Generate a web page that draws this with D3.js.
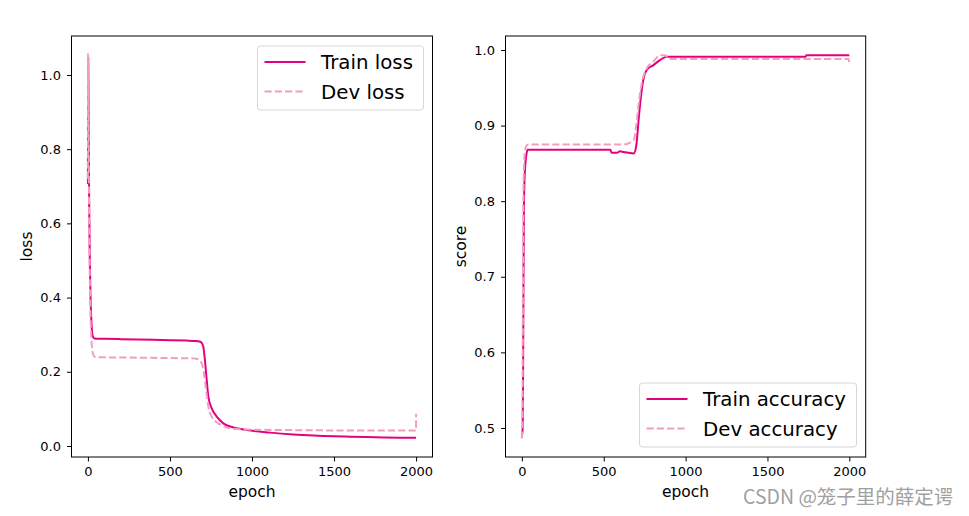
<!DOCTYPE html>
<html>
<head>
<meta charset="utf-8">
<script src="https://cdn.jsdelivr.net/npm/d3@7"></script>
<style>
    body { margin: 0; background: #fff; }
    svg { display: block; font-family: "DejaVu Sans", sans-serif; }
</style>
</head>
<body>
<svg width="969" height="516"></svg>
<script>
    // DATA ======================================================================
    const trainLossEpochs = [0, 2, 5, 8, 12, 16, 22, 30, 40, 100, 200, 300, 400, 500, 600, 660, 683, 693, 703, 713, 724, 734, 754, 785, 825, 886, 967, 1110, 1250, 1374, 1500, 1600, 1700, 1800, 1900, 2000];
    const trainLoss = [0.706, 1.046, 0.86, 0.64, 0.49, 0.40, 0.33, 0.295, 0.290, 0.289, 0.288, 0.287, 0.286, 0.285, 0.284, 0.283, 0.281, 0.278, 0.268, 0.232, 0.178, 0.133, 0.102, 0.079, 0.061, 0.050, 0.043, 0.036, 0.031, 0.028, 0.026, 0.025, 0.024, 0.023, 0.0225, 0.022];

    const devLossEpochs = [0, 1, 4, 7, 11, 15, 20, 26, 34, 45, 100, 300, 500, 650, 675, 693, 707, 720, 734, 754, 795, 846, 927, 1000, 1200, 1500, 1999, 2000];
    const devLoss = [0.72, 1.057, 0.86, 0.64, 0.47, 0.37, 0.30, 0.26, 0.245, 0.240, 0.239, 0.238, 0.237, 0.236, 0.233, 0.223, 0.196, 0.151, 0.106, 0.079, 0.061, 0.050, 0.045, 0.044, 0.043, 0.042, 0.042, 0.087];

    const trainAccEpochs = [0, 5, 8, 10, 12, 15, 20, 28, 35, 60, 540, 548, 580, 600, 620, 650, 683, 699, 714, 728, 744, 764, 804, 845, 886, 1000, 1733, 1738, 2000];
    const trainAcc = [0.489, 0.50, 0.60, 0.70, 0.78, 0.82, 0.845, 0.862, 0.868, 0.868, 0.868, 0.864, 0.864, 0.866, 0.865, 0.864, 0.863, 0.874, 0.910, 0.940, 0.963, 0.974, 0.980, 0.987, 0.991, 0.991, 0.991, 0.993, 0.993];

    const devAccEpochs = [0, 4, 6, 8, 10, 14, 20, 30, 40, 622, 683, 699, 714, 734, 764, 804, 845, 875, 895, 920, 1000, 1995, 2000];
    const devAcc = [0.486, 0.52, 0.65, 0.75, 0.82, 0.85, 0.868, 0.874, 0.875, 0.875, 0.881, 0.901, 0.930, 0.958, 0.976, 0.985, 0.993, 0.993, 0.989, 0.988, 0.988, 0.988, 0.980];

    const xTicks = [0, 500, 1000, 1500, 2000];
    const lossTicks = [0.0, 0.2, 0.4, 0.6, 0.8, 1.0];
    const scoreTicks = [0.5, 0.6, 0.7, 0.8, 0.9, 1.0];

    const TRAIN_COLOR = '#e4007f',
        DEV_COLOR = '#f19ec2';

    // LAYOUT ====================================================================
    const svg = d3.select('svg');
    const panelTop = 36, panelBottom = 457;

    const panels = [
        {
            left: 71.5, right: 432.5, yDomain: [-0.0297, 1.105], yTicks: lossTicks,
            yLabel: 'loss', yLabelX: 32,
            series: [
                { label: 'Train loss', x: trainLossEpochs, y: trainLoss, color: TRAIN_COLOR, dash: null },
                { label: 'Dev loss', x: devLossEpochs, y: devLoss, color: DEV_COLOR, dash: '7.2,3.1' }
            ],
            legend: { x: 257.5, y: 46, w: 166, h: 64 }
        },
        {
            left: 505.5, right: 865.7, yDomain: [0.4616, 1.0185], yTicks: scoreTicks,
            yLabel: 'score', yLabelX: 466,
            series: [
                { label: 'Train accuracy', x: trainAccEpochs, y: trainAcc, color: TRAIN_COLOR, dash: null },
                { label: 'Dev accuracy', x: devAccEpochs, y: devAcc, color: DEV_COLOR, dash: '7.2,3.1' }
            ],
            legend: { x: 639.5, y: 383, w: 217, h: 64 }
        }
    ];

    panels.forEach((p, idx) => {
        const xScale = d3.scaleLinear().domain([-100, 2100]).range([p.left, p.right]);
        const yScale = d3.scaleLinear().domain(p.yDomain).range([panelBottom, panelTop]);

        svg.append('clipPath').attr('id', 'clip' + idx)
            .append('rect')
            .attr('x', p.left).attr('y', panelTop)
            .attr('width', p.right - p.left).attr('height', panelBottom - panelTop);

        // lines
        const line = d3.line()
            .x(d => xScale(d[0]))
            .y(d => yScale(d[1]))
            .curve(d3.curveMonotoneX);

        const plot = svg.append('g').attr('clip-path', `url(#clip${idx})`);
        p.series.forEach(s => {
            plot.append('path')
                .datum(s.x.map((e, i) => [e, s.y[i]]))
                .attr('d', line)
                .attr('fill', 'none')
                .attr('stroke', s.color)
                .attr('stroke-width', 2)
                .attr('stroke-dasharray', s.dash);
        });

        // axes
        svg.append('g')
            .attr('transform', `translate(0,${panelBottom})`)
            .call(d3.axisBottom(xScale).tickValues(xTicks).tickSize(4.5).tickPadding(5).tickFormat(d3.format('d')))
            .call(g => g.select('.domain').remove())
            .attr('font-family', '"DejaVu Sans", sans-serif')
            .attr('font-size', 13);

        svg.append('g')
            .attr('transform', `translate(${p.left},0)`)
            .call(d3.axisLeft(yScale).tickValues(p.yTicks).tickSize(4.5).tickPadding(6).tickFormat(d3.format('.1f')))
            .call(g => g.select('.domain').remove())
            .attr('font-family', '"DejaVu Sans", sans-serif')
            .attr('font-size', 13);

        svg.append('rect')
            .attr('x', p.left).attr('y', panelTop)
            .attr('width', p.right - p.left).attr('height', panelBottom - panelTop)
            .attr('fill', 'none').attr('stroke', '#000').attr('stroke-width', 1);

        // labels
        svg.append('text')
            .attr('x', (p.left + p.right) / 2)
            .attr('y', 497)
            .attr('text-anchor', 'middle')
            .style('font-size', '15.5px')
            .text('epoch');

        svg.append('text')
            .attr('transform', `translate(${p.yLabelX},${(panelTop + panelBottom) / 2}) rotate(-90)`)
            .attr('text-anchor', 'middle')
            .style('font-size', '15.5px')
            .text(p.yLabel);

        // legend
        const lg = svg.append('g').attr('transform', `translate(${p.legend.x},${p.legend.y})`);
        lg.append('rect')
            .attr('width', p.legend.w).attr('height', p.legend.h)
            .attr('rx', 3)
            .attr('fill', '#fff').attr('fill-opacity', 0.8)
            .attr('stroke', '#d6d6d6');

        p.series.forEach((s, i) => {
            const cy = 16 + i * 29.5;
            lg.append('line')
                .attr('x1', 7).attr('x2', 48)
                .attr('y1', cy).attr('y2', cy)
                .attr('stroke', s.color).attr('stroke-width', 2)
                .attr('stroke-dasharray', s.dash);
            lg.append('text')
                .attr('x', 63.5).attr('y', cy + 7)
                .style('font-size', '19.8px')
                .text(s.label);
        });
    });

    // watermark
    svg.append('text')
        .attr('x', 743)
        .attr('y', 503.5)
        .style('font-family', '"Noto Sans CJK SC", sans-serif')
        .style('font-size', '19.5px')
        .attr('fill', '#a0a0a0')
        .text('CSDN @笼子里的薛定谔');
</script>
</body>
</html>
